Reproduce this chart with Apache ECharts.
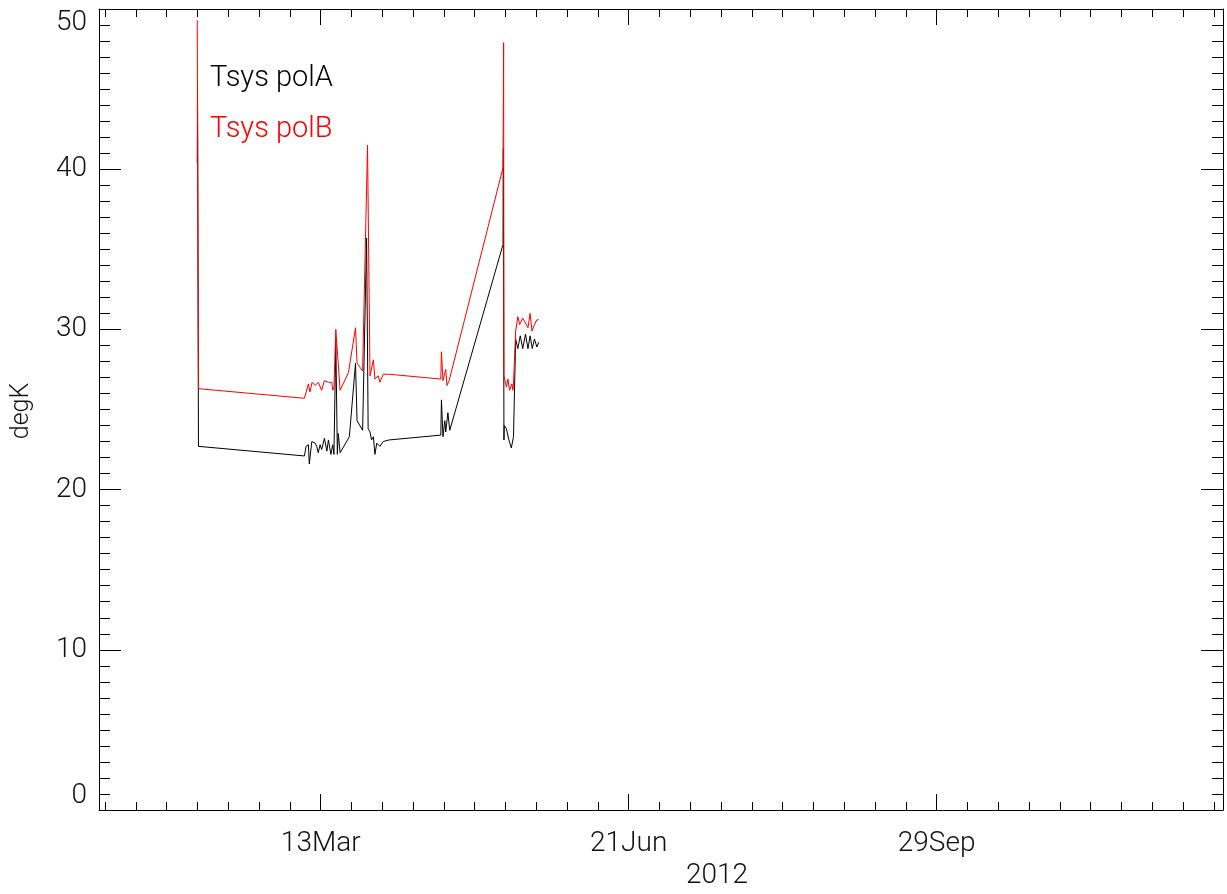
<!DOCTYPE html>
<html>
<head>
<meta charset="utf-8">
<script src="https://cdn.jsdelivr.net/npm/echarts@6/dist/echarts.min.js"></script>
<style>
html,body{margin:0;padding:0;background:#fff;}
#chart{width:1227px;height:894px;}
</style>
</head>
<body>
<div id="chart"></div>
<script>
// x values: days since 2012-01-01
const tickDays = [72, 172, 272];
const tickLabels = ['13Mar', '21Jun', '29Sep'];
const minorTickDays = [];
for (let d = 2; d < 365; d += 10) minorTickDays.push(d);

const polADays = [31.9,32.0,32.3,66.7,67.25,68.0,68.3,69.1,70.2,70.7,71.2,71.8,72.3,73.2,74.0,74.5,75.3,75.9,76.3,76.9,77.4,77.7,78.3,81.3,83.3,83.8,85.6,86.9,87.4,88.0,88.5,89.1,89.6,90.2,91.2,92.3,94.2,111.0,111.2,111.7,112.3,112.6,113.3,113.9,131.2,131.3,131.5,131.6,132.3,133.1,133.9,134.6,135.3,136.0,136.8,137.6,138.5,139.3,140.0,140.7,141.4,142.2,142.8];
const polAVals = [40.4,45.1,22.7,22.1,22.7,22.8,21.6,23.0,22.9,22.7,22.3,22.8,22.5,23.2,22.4,23.1,22.2,22.8,22.2,29.3,22.2,23.5,22.3,23.3,27.9,24.3,23.7,35.7,23.8,23.6,23.1,23.3,22.2,22.9,22.7,23.0,23.1,23.4,25.6,23.3,24.3,23.6,24.8,23.7,35.3,41.3,23.1,24.0,23.8,23.1,22.6,23.3,29.4,28.8,29.6,28.8,29.7,28.8,29.6,28.8,29.4,28.9,29.2];

const polBDays = [31.9,32.3,66.7,68.0,68.5,69.2,70.2,71.2,72.3,73.2,74.5,75.6,75.9,76.3,76.9,78.3,81.0,83.3,83.8,85.6,87.2,88.0,89.1,89.6,90.7,91.2,92.3,94.2,111.0,111.2,111.7,112.6,113.0,113.7,131.2,131.4,131.5,132.3,132.8,133.3,134.1,134.4,134.6,135.3,136.0,136.6,137.6,138.5,139.3,140.0,140.6,141.4,142.2,142.8];
const polBVals = [49.3,26.3,25.7,26.6,26.1,26.7,26.5,26.7,26.2,26.8,26.7,26.7,26.2,26.4,30.0,26.2,27.3,30.1,27.9,27.4,41.5,27.1,28.1,26.9,27.1,26.7,27.2,27.2,26.9,28.6,26.8,27.5,26.5,26.8,40.1,47.9,27.1,26.4,26.9,26.2,26.6,26.2,26.6,29.9,30.8,30.3,30.7,30.4,30.1,31.0,29.9,30.3,30.6,30.6];

const seriesNames = ['Tsys polA', 'Tsys polB'];
const seriesColors = ['#000000', '#ff0000'];

const FONT = 'Roboto';
const chart = echarts.init(document.getElementById('chart'), null, {renderer: 'canvas'});

function xAx(pos, major, labels) {
  return {
    type: 'value', position: pos, min: 0, max: 365,
    axisLine: {show: major, onZero: false, lineStyle: {color: '#000', width: 1}},
    axisTick: {show: true, inside: true, length: major ? 16 : 8,
      customValues: major ? tickDays : minorTickDays,
      lineStyle: {color: '#000', width: 1}},
    axisLabel: labels ? {
      show: true, customValues: tickDays, margin: 20,
      fontFamily: FONT, fontWeight: 300, fontSize: 28, color: '#111',
      formatter: v => tickLabels[tickDays.indexOf(Math.round(v))] || ''
    } : {show: false},
    splitLine: {show: false}
  };
}
function yAx(pos, labels) {
  return {
    type: 'value', position: pos, min: 0, max: 50, interval: 10,
    axisLine: {show: true, onZero: false, lineStyle: {color: '#000', width: 1}},
    axisTick: {show: true, inside: true, length: 22, lineStyle: {color: '#000', width: 1}},
    minorTick: {show: true, splitNumber: 10, length: 11, lineStyle: {color: '#000', width: 1}},
    axisLabel: labels ? {
      show: true, margin: 12, fontFamily: FONT, fontWeight: 300, fontSize: 28, color: '#111',
      verticalAlignMaxLabel: 'top', verticalAlignMinLabel: 'bottom'
    } : {show: false},
    splitLine: {show: false}, minorSplitLine: {show: false}
  };
}

chart.setOption({
  animation: false,
  backgroundColor: '#fff',
  grid: {left: 99, top: 9, right: 4, bottom: 84, containLabel: false},
  xAxis: [xAx('bottom', true, true), xAx('bottom', false, false), xAx('top', true, false), xAx('top', false, false)],
  yAxis: [yAx('left', true), yAx('right', false)],
  legend: {
    orient: 'vertical', left: 199, top: 59, itemGap: 22,
    itemWidth: 0, itemHeight: 0, selectedMode: false,
    data: seriesNames.map((n, i) => ({name: n, textStyle: {color: seriesColors[i]}})),
    textStyle: {fontFamily: FONT, fontWeight: 300, fontSize: 29}
  },
  graphic: [
    {type: 'text', x: 22, y: 411, rotation: Math.PI / 2,
     style: {text: 'degK', fontFamily: FONT, fontWeight: 300, fontSize: 25, fill: '#111', align: 'center', verticalAlign: 'middle'}},
    {type: 'text', x: 717, y: 876,
     style: {text: '2012', fontFamily: FONT, fontWeight: 300, fontSize: 28, fill: '#111', align: 'center', verticalAlign: 'middle'}}
  ],
  series: [
    {name: seriesNames[0], type: 'line', xAxisIndex: 0, yAxisIndex: 0, showSymbol: false,
     lineStyle: {color: seriesColors[0], width: 1}, itemStyle: {color: seriesColors[0]},
     data: polADays.map((d, i) => [d, polAVals[i]])},
    {name: seriesNames[1], type: 'line', xAxisIndex: 0, yAxisIndex: 0, showSymbol: false,
     lineStyle: {color: seriesColors[1], width: 1}, itemStyle: {color: seriesColors[1]},
     data: polBDays.map((d, i) => [d, polBVals[i]])}
  ]
});
</script>
</body>
</html>
